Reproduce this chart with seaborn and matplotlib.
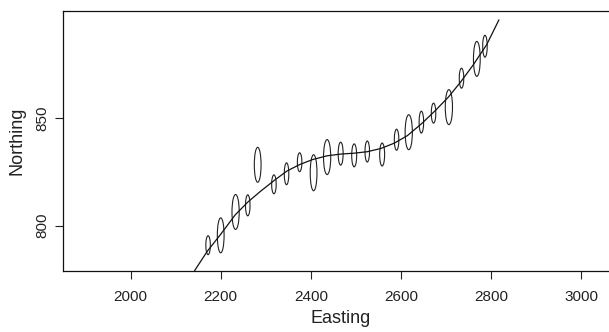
import numpy as np
import pandas as pd
import matplotlib
matplotlib.use("Agg")
import matplotlib.pyplot as plt
from matplotlib.patches import Ellipse
import seaborn as sns

# Ellipse centres (Easting, Northing) and their full widths/heights in data units
easting = [2172, 2200, 2233, 2260, 2282, 2318, 2346, 2375, 2406, 2436, 2466,
           2496, 2525, 2558, 2590, 2617, 2645, 2672, 2706, 2734, 2768, 2786]
northing = [790.9, 795.5, 806.4, 809.5, 828.4, 819.3, 824.2, 829.6, 824.7, 832.0, 833.6,
            832.8, 834.6, 833.2, 840.1, 843.6, 848.3, 852.5, 855.3, 868.8, 877.8, 883.7]
ell_width = [10, 15, 16, 10, 15, 10, 10, 10, 15, 16, 11,
             11, 10, 11, 10, 16, 10, 10, 16, 10, 15, 10]
ell_height = [8.8, 16.3, 16.3, 9.8, 16.3, 8.8, 10.2, 8.8, 16.8, 16.3, 10.7,
              10.7, 9.8, 10.7, 9.8, 16.3, 10.2, 9.3, 16.3, 9.3, 16.3, 10.2]

# Fitted curve
curve_x = [2142, 2170, 2200, 2232, 2260, 2288, 2318, 2347, 2375, 2403, 2436, 2466,
           2495, 2525, 2555, 2585, 2614, 2645, 2675, 2705, 2732, 2760, 2790, 2817]
curve_y = [779, 788, 796, 805, 811, 816, 821, 825.5, 828.5, 830.8, 832.6, 833.4,
           833.8, 834.5, 836, 838.5, 842, 847.5, 853.5, 860, 867, 875, 884.5, 896]

x_ticks = [2000, 2200, 2400, 2600, 2800, 3000]
y_ticks = [800, 850]

sns.set_theme(style="ticks")
plt.rcParams['font.family'] = ['Liberation Sans', 'DejaVu Sans']

fig = plt.figure(figsize=(6.09, 3.32), dpi=100)
ax = fig.add_axes([0.104, 0.1846, 0.91, 0.7814])

curve = pd.DataFrame({"Easting": curve_x, "Northing": curve_y})
sns.lineplot(data=curve, x="Easting", y="Northing", ax=ax, color="#111111",
             linewidth=0.9, sort=False, estimator=None)

for cx, cy, w, h in zip(easting, northing, ell_width, ell_height):
    ax.add_patch(Ellipse((cx, cy), w, h, fill=False, edgecolor="#222222", linewidth=0.8))

ax.set_xlim(1851, 3080)
ax.set_ylim(779, 900)
ax.set_xticks(x_ticks)
ax.set_yticks(y_ticks)
ax.set_xticklabels([str(t) for t in x_ticks], fontsize=11, color="#222222")
ax.set_yticklabels([str(t) for t in y_ticks], fontsize=11, color="#222222",
                   rotation=90, va="center")
ax.tick_params(axis="both", length=6, width=0.8, color="#222222")
ax.tick_params(axis="x", pad=8)
ax.tick_params(axis="y", pad=4)
ax.set_xlabel("Easting", fontsize=13, color="#222222", labelpad=4)
ax.set_ylabel("Northing", fontsize=13, color="#222222", labelpad=7)
ax.spines["right"].set_visible(False)
for s in ax.spines.values():
    s.set_color("#111111")
    s.set_linewidth(0.9)

fig.savefig("out.png", dpi=100)
